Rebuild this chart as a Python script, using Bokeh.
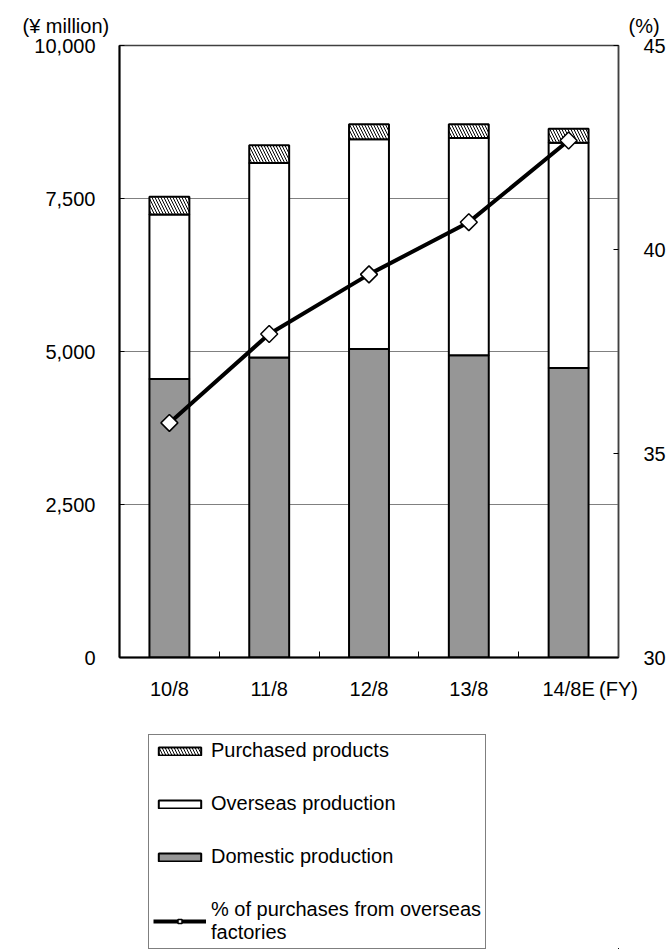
import math

from bokeh.embed import file_html
from bokeh.layouts import column
from bokeh.models import (ColumnDataSource, FixedTicker, Label, Legend, LegendItem,
                          LinearAxis, NumeralTickFormatter, Range1d)
from bokeh.plotting import figure
from bokeh.resources import INLINE

# Fiscal years and sales breakdown (¥ million)
fiscal_years = ["10/8", "11/8", "12/8", "13/8", "14/8E"]
fiscal_unit = "(FY)"
domestic = [4550, 4900, 5040, 4940, 4730]
overseas = [2690, 3180, 3430, 3550, 3680]
purchased = [290, 290, 245, 225, 230]
# Share of purchases from overseas factories (%)
overseas_share = [35.75, 37.93, 39.39, 40.67, 42.67]

left_ticks = [0, 2500, 5000, 7500, 10000]
right_ticks = [30, 35, 40, 45]

FONT = "Liberation Sans"
TICK_SIZE = "20px"

# Series styles, shared by the chart and its key
DOM_STYLE = dict(fill_color="#969696", line_color="black", line_width=2)
OVS_STYLE = dict(fill_color="white", line_color="black", line_width=2)
PUR_STYLE = dict(fill_color="white", hatch_pattern="\\", hatch_color="black",
                 hatch_scale=6, hatch_weight=1, line_color="black", line_width=2)
LINE_STYLE = dict(line_color="black", line_width=4)
MARK_STYLE = dict(marker="square", angle=math.pi / 4, size=12,
                  fill_color="white", line_color="black", line_width=1.5)

xpos = list(range(1, len(fiscal_years) + 1))
x_end = len(fiscal_years) + 0.5
ovs_top = [d + o for d, o in zip(domestic, overseas)]
pur_top = [t + q for t, q in zip(ovs_top, purchased)]

src = ColumnDataSource(dict(
    x=xpos, dom=domestic, ovs_top=ovs_top, pur_top=pur_top, share=overseas_share,
))

# ---------------- main chart ----------------
p = figure(width=671, height=710, output_backend="svg", toolbar_location=None,
           x_range=Range1d(0.5, x_end),
           y_range=Range1d(left_ticks[0], left_ticks[-1]),
           min_border_left=119, min_border_right=53,
           min_border_top=45, min_border_bottom=53)
p.extra_y_ranges = {"pct": Range1d(right_ticks[0], right_ticks[-1])}
p.background_fill_color = "white"
p.border_fill_color = "white"
p.outline_line_color = "#404040"
p.outline_line_width = 1.5

# Left axis (¥ million)
yax = p.yaxis[0]
yax.ticker = FixedTicker(ticks=left_ticks)
yax.formatter = NumeralTickFormatter(format="0,0")
yax.major_tick_in = 5
yax.major_tick_out = 0
yax.minor_tick_line_color = None
yax.axis_line_width = 2
yax.axis_line_color = "black"
yax.major_label_standoff = 24
yax.major_label_text_font = FONT
yax.major_label_text_font_size = TICK_SIZE
yax.major_label_text_color = "black"

# Bottom axis: year labels at bar centres, ticks between years,
# unit caption at the right end
xax = p.xaxis[0]
xax.ticker = FixedTicker(ticks=xpos + [x_end],
                         minor_ticks=[i + 0.5 for i in xpos[:-1]])
overrides = {i: fy for i, fy in zip(xpos, fiscal_years)}
overrides[x_end] = fiscal_unit
xax.major_label_overrides = overrides
xax.major_tick_line_color = None
xax.major_tick_in = 0
xax.major_tick_out = 0
xax.minor_tick_in = 6
xax.minor_tick_out = 0
xax.minor_tick_line_color = "black"
xax.axis_line_width = 2
xax.axis_line_color = "black"
xax.major_label_standoff = 20
xax.major_label_text_font = FONT
xax.major_label_text_font_size = TICK_SIZE
xax.major_label_text_color = "black"

# Right axis (%)
rax = LinearAxis(y_range_name="pct", ticker=FixedTicker(ticks=right_ticks))
rax.major_tick_in = 5
rax.major_tick_out = 0
rax.minor_tick_line_color = None
rax.axis_line_width = 1.5
rax.axis_line_color = "#404040"
rax.major_label_standoff = 25
rax.major_label_text_font = FONT
rax.major_label_text_font_size = TICK_SIZE
rax.major_label_text_color = "black"
p.add_layout(rax, "right")

p.xgrid.visible = False
p.ygrid.ticker = FixedTicker(ticks=left_ticks)
p.ygrid.grid_line_color = "#808080"
p.ygrid.grid_line_width = 1

# Stacked bars
bar_w = 0.4
p.vbar(x="x", bottom=0, top="dom", width=bar_w, source=src, **DOM_STYLE)
p.vbar(x="x", bottom="dom", top="ovs_top", width=bar_w, source=src, **OVS_STYLE)
p.vbar(x="x", bottom="ovs_top", top="pur_top", width=bar_w, source=src, **PUR_STYLE)

# Share line on the right-hand scale
p.line(x="x", y="share", source=src, y_range_name="pct", **LINE_STYLE)
p.scatter(x="x", y="share", source=src, y_range_name="pct", **MARK_STYLE)

# Unit captions above the frame
for txt, xs, ys in [("(¥ million)", -97, 20), ("(%)", 509, -2)]:
    p.add_layout(Label(x=xs, y=ys, x_units="screen", y_units="screen", text=txt,
                       text_font=FONT, text_font_size="20px",
                       text_color="black", text_baseline="middle", text_align="left"),
                 "above")

# ---------------- key ----------------
# The key panel repeats the series with a view window placed beside the
# data, so only the legend entries show.
k = figure(width=671, height=239, output_backend="svg", toolbar_location=None,
           x_range=Range1d(-10, -5), y_range=Range1d(100000, 200000),
           x_axis_location=None, y_axis_location=None,
           min_border_left=0, min_border_right=0, min_border_top=0, min_border_bottom=0)
k.grid.visible = False
k.outline_line_color = None
k.background_fill_color = "white"
k.border_fill_color = "white"

k_pur = k.vbar(x="x", bottom="ovs_top", top="pur_top", width=bar_w, source=src, **PUR_STYLE)
k_ovs = k.vbar(x="x", bottom="dom", top="ovs_top", width=bar_w, source=src, **OVS_STYLE)
k_dom = k.vbar(x="x", bottom=0, top="dom", width=bar_w, source=src, **DOM_STYLE)
k_line = k.line(x="x", y="share", source=src, **LINE_STYLE)
k_mark = k.scatter(x="x", y="share", source=src, **MARK_STYLE)

legend = Legend(items=[
    LegendItem(label="Purchased products", renderers=[k_pur]),
    LegendItem(label="Overseas production", renderers=[k_ovs]),
    LegendItem(label="Domestic production", renderers=[k_dom]),
    LegendItem(label="% of purchases from overseas\nfactories", renderers=[k_line, k_mark]),
], location=(29, 0))
legend.border_line_color = "black"
legend.border_line_width = 1
legend.background_fill_color = "white"
legend.background_fill_alpha = 1
legend.glyph_width = 53
legend.glyph_height = 10
legend.label_standoff = 5
legend.padding = 4
legend.spacing = 30
legend.margin = 0
legend.label_height = 20
legend.label_text_font = FONT
legend.label_text_font_size = "20px"
legend.label_text_color = "black"
k.add_layout(legend)

page = column(p, k, spacing=0)
open("out.html", "w").write(file_html(page, INLINE))
